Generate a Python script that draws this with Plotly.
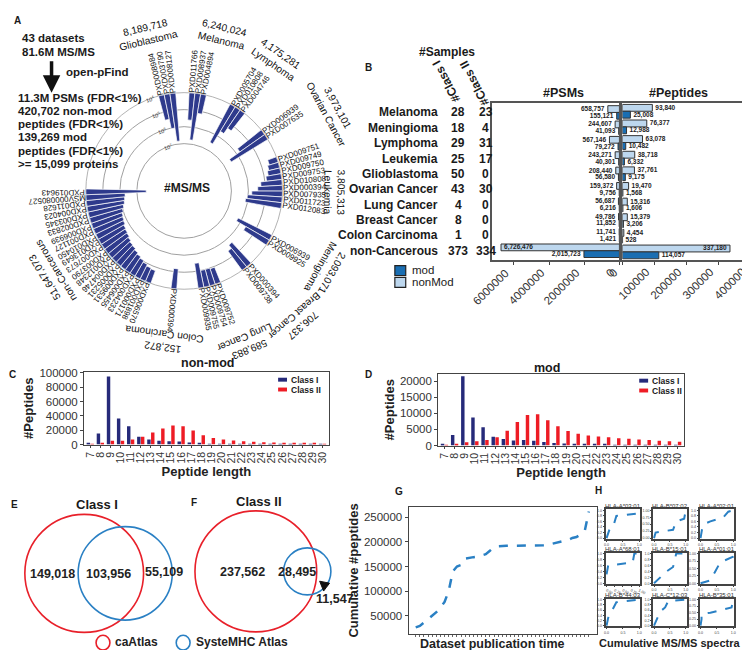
import numpy as np
import plotly.graph_objects as go

W, H = 750, 650
FONT = "Liberation Sans, Arial, sans-serif"
NAVY = "#2E3A8C"
RED = "#E8202A"
BLUE = "#2A80C4"

# ---------------- A: #MS/MS per dataset (circular, log scale) ----------------
a_groups = ["Glioblastoma", "Melanoma", "Lymphoma", "Ovarian Cancer", "Leukemia",
            "Meningioma", "Breast Cancer", "Lung Cancer", "Colon Carcinoma", "non-Cancerous"]
a_group_totals = ["8,189,718", "6,240,024", "4,175,281", "3,973,101", "3,805,313",
                  "2,093,071", "706,337", "589,883", "152,872", "51,647,073"]
ids_glioblastoma = ["PXD008984", "PXD003790", "PXD008127"]
msms_glioblastoma = [300000, 1100000, 6790000]
ids_melanoma = ["PXD011766", "PXD008937", "PXD004894"]
msms_melanoma = [400000, 5700000, 140000]
ids_lymphoma = ["PXD005704", "PXD010808", "PXD004746"]
msms_lymphoma = [3500000, 480000, 195000]
ids_ovarian = ["PXD006939", "PXD007635"]
msms_ovarian = [600000, 3370000]
ids_leukemia = ["PXD009751", "PXD009749", "PXD009750", "PXD009753", "PXD010808",
                "PXD000394", "PXD007935", "PXD011723", "PXD012083"]
msms_leukemia = [35000, 45000, 56000, 79000, 178000, 282000, 631000, 1120000, 1380000]
ids_meningioma = ["PXD006939", "PXD009925"]
msms_meningioma = [1700000, 393000]
ids_breast = ["PXD000394", "PXD009738"]
msms_breast = [450000, 256000]
ids_lung = ["PXD009752", "PXD009754", "PXD009755", "PXD009935"]
msms_lung = [90000, 100000, 100000, 300000]
ids_colon = ["PXD000394"]
msms_colon = [152872]
ids_noncancer = ["PXD006570", "PXD001898", "PXD000171", "PXD004233", "PXD006455", "PXD009531",
                 "PXD005231", "PXD004746", "PXD012348", "PXD003790", "PXD007673", "PXD013649",
                 "PXD010450", "PXD001127", "PXD006939", "PXD002833", "PXD003345", "PXD004023",
                 "PXD011628", "MSV000080527", "PXD019643"]
msms_noncancer = [63000, 71000, 89000, 112000, 141000, 178000, 224000, 251000, 316000, 398000,
                  447000, 501000, 631000, 708000, 794000, 1000000, 1259000, 1585000, 1778000,
                  1995000, 35500000]
a_ids = [ids_glioblastoma, ids_melanoma, ids_lymphoma, ids_ovarian, ids_leukemia,
         ids_meningioma, ids_breast, ids_lung, ids_colon, ids_noncancer]
a_msms = [msms_glioblastoma, msms_melanoma, msms_lymphoma, msms_ovarian, msms_leukemia,
          msms_meningioma, msms_breast, msms_lung, msms_colon, msms_noncancer]

# ---------------- B ----------------
b_types = ["Melanoma", "Meningioma", "Lymphoma", "Leukemia", "Glioblastoma", "Ovarian Cancer",
           "Lung Cancer", "Breast Cancer", "Colon Carcinoma", "non-Cancerous"]
b_class1 = [28, 18, 29, 25, 50, 43, 4, 8, 1, 373]
b_class2 = [23, 4, 31, 17, 0, 30, 0, 0, 0, 334]
b_psm_nonmod = [658757, 244607, 567146, 243271, 208440, 159372, 56687, 49786, 11741, 6726476]
b_psm_mod = [155121, 41093, 79272, 40301, 56580, 9756, 6216, 11852, 1421, 2015723]
b_pep_nonmod = [93840, 76377, 63078, 38718, 37761, 19470, 15316, 15379, 4454, 337180]
b_pep_mod = [25008, 12988, 10482, 6332, 9175, 1568, 1606, 3206, 528, 114057]
b_psm_ticks = [0, 2000000, 4000000, 6000000]
b_pep_ticks = [0, 100000, 200000, 300000, 400000]

# ---------------- C / D ----------------
pep_len = list(range(7, 31))
c_class1 = [1500, 15500, 95000, 36500, 25500, 11000, 7000, 5500, 4800, 4200, 2800, 1600, 900,
            450, 250, 150, 100, 80, 60, 50, 40, 30, 20, 20]
c_class2 = [150, 1800, 5500, 5200, 7200, 11000, 16800, 22500, 26500, 25500, 19500, 13000, 9200,
            7200, 5800, 4800, 4000, 3400, 2800, 2300, 1800, 1500, 1200, 1000]
d_class1 = [400, 3300, 21500, 8700, 5700, 2700, 2000, 1600, 1700, 1500, 1100, 800, 600, 500,
            400, 350, 250, 200, 150, 120, 100, 100, 80, 80]
d_class2 = [100, 500, 1000, 1300, 1700, 2600, 4600, 7300, 9500, 9700, 7900, 6000, 4500, 3700,
            3100, 2800, 2600, 2300, 2100, 1900, 1700, 1500, 1300, 1200]

# ---------------- E / F Venn ----------------
e_only_ca, e_both, e_only_sys = 149018, 103956, 55109
f_only_ca, f_both, f_only_sys = 237562, 28495, 11547

# ---------------- G ----------------
g_dataset_idx = list(range(1, 44))
g_cum_peptides = [26000, 29000, 36000, 43000, 50000, 57000, 66000, 78000, 100000, 140000,
                  150000, 153000, 166000, 168000, 169000, 170000, 172000, 175000, 182000,
                  189000, 191000, 192000, 192000, 192000, 192000, 192000, 192000, 192000,
                  193000, 193000, 193000, 193000, 194000, 196000, 198000, 200000, 201000,
                  204000, 208000, 210000, 215000, 222000, 262000]

# ---------------- H ----------------
h_alleles = ["HLA-A*03:01", "HLA-B*07:02", "HLA-A*02:01", "HLA-A*68:01", "HLA-B*15:01",
             "HLA-A*01:01", "HLA-B*44:03", "HLA-C*12:03", "HLA-B*35:01"]
h_x = [[0, 0.1, 0.2, 0.3, 0.5, 0.9, 1.0],
       [0, 0.05, 0.6, 0.7, 0.95, 1.0],
       [0, 0.05, 0.1, 0.3, 0.7, 0.85, 1.0],
       [0, 0.05, 0.8, 0.85, 1.0],
       [0, 0.4, 0.6, 0.7, 1.0],
       [0, 0.3, 0.45, 0.6, 1.0, 1.0],
       [0, 0.05, 0.3, 1.0],
       [0, 0.1, 0.2, 0.35, 0.45, 1.0],
       [0, 0.03, 0.03, 0.3, 0.95, 1.0]]
h_y = [[0, 0.35, 0.4, 0.8, 0.82, 0.88, 1.0],
       [0, 0.2, 0.3, 0.6, 0.7, 1.0],
       [0, 0.35, 0.5, 0.6, 0.75, 0.95, 1.0],
       [0.3, 0.6, 0.7, 1.0, 1.0],
       [0, 0.4, 0.55, 1.0, 1.0],
       [0, 0.1, 0.4, 0.7, 0.9, 1.0],
       [0, 0.3, 0.9, 1.0],
       [0, 0.3, 0.55, 0.7, 0.95, 1.0],
       [0, 0.25, 0.45, 0.5, 0.7, 1.0]]
h_ydtick = [0.2, 0.25, 0.2, 0.2, 0.2, 0.25, 0.2, 0.2, 0.25]
h_xdtick = [0.5, 0.5, 0.5, 0.25, 0.5, 0.5, 0.5, 0.5, 0.5]

# =====================================================================
fig = go.Figure()
ann, shapes = [], []


def xd(a, b):
    return [a / W, b / W]


def yd(top, bottom):
    return [1 - bottom / H, 1 - top / H]


def A(x, y, text, size=11, bold=False, color="#1a1a1a", xanchor="center", yanchor="middle",
      angle=0, **kw):
    t = f"<b>{text}</b>" if bold else text
    d = dict(x=x / W, y=1 - y / H, xref="paper", yref="paper", text=t, showarrow=False,
             font=dict(family=FONT, size=size, color=color), xanchor=xanchor, yanchor=yanchor,
             textangle=angle)
    d.update(kw)
    ann.append(d)


def norm_ang(a):
    while a > 180:
        a -= 360
    while a <= -180:
        a += 360
    return a


# ---------------- Panel A ----------------
CX, CY, RPX = 176, 181, 100          # centre and radius (px) of the 10^4 ring
PXDEC = 17.3                          # px per decade
K = 4 + RPX / PXDEC                   # log value at the centre
RMAX = K - 4
pitch = 3.4
a_centers = [-10, 8, 33, 55, 85, 120, 140.5, 165, 186, 235.5]
a_lab_theta = [-13.4, 13.8, 35, 61.5, 90.8, 119.4, 139, 157.7, 187.8, 238.3]
a_lab_r = [164, 164, 164, 170, 152, 165, 176, 168, 154, 160]

th_all, r_all, base_all, lab_all = [], [], [], []
for g, (ids, vals) in enumerate(zip(a_ids, a_msms)):
    n = len(vals)
    for i, (nm, v) in enumerate(zip(ids, vals)):
        th = a_centers[g] + (i - (n - 1) / 2) * pitch
        lv = np.log10(v)
        th_all.append(th)
        r_all.append(lv - 4)
        base_all.append(K - lv)
        lab_all.append(nm)

fig.add_trace(go.Barpolar(theta=th_all, r=r_all, base=base_all, width=pitch,
                          marker=dict(color=NAVY, line=dict(color="white", width=0.7)),
                          subplot="polar", showlegend=False, hoverinfo="skip"))


def ppx(theta, r):
    t = np.radians(theta)
    return CX + r * np.sin(t), CY - r * np.cos(t)


for th, nm in zip(th_all, lab_all):
    w = len(nm) * 8 * 0.57
    x, y = ppx(th, 102 + w / 2)
    A(x, y, nm, size=8, color="#111", angle=norm_ang(th - 90))

for g in range(len(a_groups)):
    x, y = ppx(a_lab_theta[g], a_lab_r[g])
    A(x, y, f"{a_group_totals[g]}<br>{a_groups[g]}", size=10.2, color="#111",
      angle=norm_ang(a_lab_theta[g]))

for k, ring in enumerate([4, 5, 6, 7]):
    x, y = ppx(-20, RPX - PXDEC * k - 1)
    A(x, y, f"10<sup>{ring}</sup>", size=5.5, color="#333", angle=-18)

A(179, 178, "#MS/MS", size=12, bold=True)
A(8, 8, "A", size=10, bold=True)
A(10, 25, "43 datasets", size=11.5, bold=True, xanchor="left")
A(10, 40, "81.6M MS/MS", size=11.5, bold=True, xanchor="left")
A(55, 60, "open-pFind", size=11.5, bold=True, xanchor="left")
ann.append(dict(x=42 / W, y=1 - 81 / H, xref="paper", yref="paper", text="", showarrow=True,
                ax=0, ay=-33, arrowhead=2, arrowsize=1, arrowwidth=3.5, arrowcolor="#111"))
left_lines = ["11.3M PSMs (FDR&lt;1%)", "420,702 non-mod", "peptides (FDR&lt;1%)",
              "139,269 mod", "peptides (FDR&lt;1%)", "&gt;= 15,099 proteins"]
for i, t in enumerate(left_lines):
    A(6, 86 + i * 13.5, t, size=11.5, bold=True, xanchor="left")

# ---------------- Panel B ----------------
LIGHT = "#BDD7EE"
MID = "#1A6EB2"
psm_pos_nm = ["outside"] * 9 + ["inside"]
bar_tf = dict(family=FONT, size=6.5, color="#222", weight="bold")
for xa, ya, nonmod, mod in [("x", "y", b_psm_nonmod, b_psm_mod), ("x2", "y2", b_pep_nonmod, b_pep_mod)]:
    fig.add_trace(go.Bar(y=b_types, x=nonmod, orientation="h", xaxis=xa, yaxis=ya,
                         offset=-0.44, width=0.44, marker=dict(color=LIGHT, line=dict(color="#333", width=1)),
                         text=[f"{v:,}" for v in nonmod], textposition=psm_pos_nm,
                         insidetextanchor="end", constraintext="none", cliponaxis=False,
                         textfont=bar_tf, showlegend=False, hoverinfo="skip"))
    fig.add_trace(go.Bar(y=b_types, x=mod, orientation="h", xaxis=xa, yaxis=ya,
                         offset=0.0, width=0.44, marker=dict(color=MID, line=dict(color="#333", width=1)),
                         text=[f"{v:,}" for v in mod], textposition="outside",
                         constraintext="none", cliponaxis=False,
                         textfont=bar_tf, showlegend=False, hoverinfo="skip"))

for t, c1, c2 in zip(b_types, b_class1, b_class2):
    ann.append(dict(x=435 / W, y=t, xref="paper", yref="y", text=f"<b>{t}</b>", showarrow=False,
                    xanchor="right", font=dict(family=FONT, size=12, color="#1a1a1a")))
    ann.append(dict(x=453 / W, y=t, xref="paper", yref="y", text=f"<b>{c1}</b>", showarrow=False,
                    xanchor="center", font=dict(family=FONT, size=12, color="#1a1a1a")))
    ann.append(dict(x=481 / W, y=t, xref="paper", yref="y", text=f"<b>{c2}</b>", showarrow=False,
                    xanchor="center", font=dict(family=FONT, size=12, color="#1a1a1a")))

tickf = dict(family=FONT, size=11.5, color="#333")
for xr, tv in [("x", b_psm_ticks), ("x2", b_pep_ticks)]:
    for v in tv:
        ann.append(dict(x=v, xref=xr, y=1 - 255 / H, yref="paper", text=str(v), showarrow=False,
                        textangle=-45, xanchor="right", yanchor="top", font=tickf))

A(362, 55, "B", size=10, bold=True)
A(442, 40, "#Samples", size=12, bold=True)
A(441, 70, "#Class I", size=12, bold=True, angle=-118)
A(469, 71, "#Class II", size=12, bold=True, angle=-118)
A(559, 81, "#PSMs", size=12.5, bold=True)
A(676, 81, "#Peptides", size=12.5, bold=True)
shapes.append(dict(type="rect", xref="paper", yref="paper", x0=389 / W, x1=400 / W,
                   y0=1 - 267 / H, y1=1 - 257 / H, fillcolor=MID, line=dict(color="#222", width=1.2)))
shapes.append(dict(type="rect", xref="paper", yref="paper", x0=389 / W, x1=400 / W,
                   y0=1 - 279 / H, y1=1 - 269 / H, fillcolor=LIGHT, line=dict(color="#222", width=1.2)))
A(404, 261, "mod", size=11.5, xanchor="left")
A(404, 274, "nonMod", size=11.5, xanchor="left")

# ---------------- Panel C / D ----------------
for xa, ya, c1, c2 in [("x3", "y3", c_class1, c_class2), ("x4", "y4", d_class1, d_class2)]:
    fig.add_trace(go.Bar(x=pep_len, y=c1, xaxis=xa, yaxis=ya, offset=-0.36, width=0.34,
                         marker=dict(color="#262A7A", line=dict(width=0)), showlegend=False,
                         hoverinfo="skip"))
    fig.add_trace(go.Bar(x=pep_len, y=c2, xaxis=xa, yaxis=ya, offset=0.02, width=0.34,
                         marker=dict(color="#EE1C25", line=dict(width=0)), showlegend=False,
                         hoverinfo="skip"))

A(3, 368, "C", size=10, bold=True)
A(200, 356, "non-mod", size=12.5, bold=True)
A(362, 368, "D", size=10, bold=True)
A(543, 361, "mod", size=12.5, bold=True)
for (lx, ly) in [(271, 373), (636, 374)]:
    shapes.append(dict(type="rect", xref="paper", yref="paper", x0=lx / W, x1=(lx + 9) / W,
                       y0=1 - (ly + 2) / H, y1=1 - (ly - 2) / H, fillcolor="#262A7A", line=dict(width=0)))
    shapes.append(dict(type="rect", xref="paper", yref="paper", x0=lx / W, x1=(lx + 9) / W,
                       y0=1 - (ly + 12) / H, y1=1 - (ly + 8) / H, fillcolor="#EE1C25", line=dict(width=0)))
    A(lx + 11, ly, "Class I", size=8.5, bold=True, xanchor="left")
    A(lx + 11, ly + 10, "Class II", size=8.5, bold=True, xanchor="left")

# ---------------- Panel E / F (Venn) ----------------


def lens_area(r1, r2, d):
    if d >= r1 + r2:
        return 0.0
    if d <= abs(r1 - r2):
        return np.pi * min(r1, r2) ** 2
    a = r1 * r1 * np.arccos((d * d + r1 * r1 - r2 * r2) / (2 * d * r1))
    b = r2 * r2 * np.arccos((d * d + r2 * r2 - r1 * r1) / (2 * d * r2))
    c = 0.5 * np.sqrt((-d + r1 + r2) * (d + r1 - r2) * (d - r1 + r2) * (d + r1 + r2))
    return a + b - c


R0 = 60.0
ref = e_only_ca + e_both


def venn(only_a, both, only_b):
    ra = R0 * np.sqrt((only_a + both) / ref)
    rb = R0 * np.sqrt((only_b + both) / ref)
    target = both / ref * np.pi * R0 ** 2
    lo, hi = abs(ra - rb) + 1e-6, ra + rb
    for _ in range(80):
        mid = (lo + hi) / 2
        if lens_area(ra, rb, mid) > target:
            lo = mid
        else:
            hi = mid
    return ra, rb, (lo + hi) / 2


venn_cx = [75, 248.5]
venn_cy = [80, 82]
for k, (oa, bo, ob) in enumerate([(e_only_ca, e_both, e_only_sys), (f_only_ca, f_both, f_only_sys)]):
    ra, rb, d = venn(oa, bo, ob)
    cx, cy = venn_cx[k], venn_cy[k]
    shapes.append(dict(type="circle", xref="x5", yref="y5", x0=cx - ra, x1=cx + ra,
                       y0=cy - ra, y1=cy + ra, line=dict(color=RED, width=1.6)))
    shapes.append(dict(type="circle", xref="x5", yref="y5", x0=cx + d - rb, x1=cx + d + rb,
                       y0=cy - rb, y1=cy + rb, line=dict(color=BLUE, width=1.6)))
fig.add_trace(go.Scatter(x=[0, 340], y=[0, 160], xaxis="x5", yaxis="y5", mode="markers",
                         marker=dict(opacity=0), showlegend=False, hoverinfo="skip"))

A(5, 500, "E", size=10, bold=True)
A(186, 498, "F", size=10, bold=True)
A(88, 500, "Class I", size=13, bold=True)
A(252, 497, "Class II", size=13, bold=True)
A(43, 571, f"{e_only_ca:,}", size=12.5, bold=True, color="#222")
A(100, 571, f"{e_both:,}", size=12.5, bold=True, color="#222")
A(156, 569, f"{e_only_sys:,}", size=12.5, bold=True, color="#222")
A(235, 569, f"{f_only_ca:,}", size=12.5, bold=True, color="#222")
A(290, 569, f"{f_both:,}", size=12.5, bold=True, color="#222")
A(328, 596, f"{f_only_sys:,}", size=12.5, bold=True, color="#222")


def pp(x, y):
    return f"{x / W:.5f},{1 - y / H:.5f}"


# small black arrowhead pointing into the SysteMHC-only region
shapes.append(dict(type="path", xref="paper", yref="paper",
                   path=f"M {pp(313, 578)} L {pp(323, 580)} L {pp(320, 584)} L {pp(317, 588)} Z",
                   fillcolor="#111", line=dict(color="#111", width=1)))

shapes.append(dict(type="circle", xref="paper", yref="paper", x0=87 / W, x1=101 / W,
                   y0=1 - 648 / H, y1=1 - 633 / H, line=dict(color=RED, width=1.6)))
shapes.append(dict(type="circle", xref="paper", yref="paper", x0=168 / W, x1=182 / W,
                   y0=1 - 648 / H, y1=1 - 633 / H, line=dict(color=BLUE, width=1.6)))
A(104, 640, "caAtlas", size=12, bold=True, xanchor="left", color="#222")
A(186, 640, "SysteMHC Atlas", size=12, bold=True, xanchor="left", color="#222")

# ---------------- Panel G ----------------
fig.add_trace(go.Scatter(x=g_dataset_idx, y=g_cum_peptides, xaxis="x6", yaxis="y6", mode="lines",
                         line=dict(color=BLUE, width=2.5, dash="dash"), showlegend=False,
                         hoverinfo="skip"))
A(393, 487, "G", size=10, bold=True)
A(595, 486, "H", size=10, bold=True)
A(488, 642, "Dataset publication time", size=12.5, bold=True, color="#222")

# ---------------- Panel H ----------------
h_cols = [(602, 637), (650, 684), (697, 732)]
h_rows = [(505, 535), (549, 581), (596, 624)]
for i in range(9):
    ax_n = 7 + i
    fig.add_trace(go.Scatter(x=h_x[i], y=h_y[i], xaxis=f"x{ax_n}", yaxis=f"y{ax_n}", mode="lines",
                             line=dict(color=BLUE, width=2, dash="dash"), showlegend=False,
                             hoverinfo="skip"))
    c0, c1 = h_cols[i % 3]
    r0, r1 = h_rows[i // 3]
    A((c0 + c1) / 2, r0 - 3.5, h_alleles[i], size=6, color="#333")
A(667, 641, "Cumulative MS/MS spectra", size=11, bold=True, color="#222")

# =====================================================================
lay = dict(
    width=W, height=H, margin=dict(l=0, r=0, t=0, b=0, pad=0),
    paper_bgcolor="white", plot_bgcolor="white", barmode="overlay",
    font=dict(family=FONT, color="#222"),
    annotations=ann, shapes=shapes,
    polar=dict(domain=dict(x=[(CX - RPX) / W, (CX + RPX) / W], y=[1 - (CY + RPX) / H, 1 - (CY - RPX) / H]),
               bgcolor="rgba(0,0,0,0)",
               radialaxis=dict(range=[0, RMAX], tickvals=[K - 5, K - 6, K - 7], showticklabels=False,
                               ticks="", showline=False, gridcolor="#a0a0a0", gridwidth=0.8,
                               layer="below traces"),
               angularaxis=dict(rotation=90, direction="clockwise", showticklabels=False, ticks="",
                                showgrid=False, showline=True, linecolor="#a0a0a0", linewidth=0.8,
                                layer="below traces")),
)
frame = dict(showline=True, mirror=True, linecolor="#555", linewidth=1.5, showgrid=False, zeroline=False)
lay["xaxis"] = dict(domain=xd(487, 616), range=[7250000, 0], anchor="y", tickvals=b_psm_ticks,
                    showticklabels=False, ticks="outside", ticklen=3, **frame)
lay["yaxis"] = dict(domain=yd(92, 251), anchor="x", autorange="reversed", showticklabels=False,
                    categoryorder="array", categoryarray=b_types, ticks="", **frame)
lay["xaxis2"] = dict(domain=xd(619, 748), range=[0, 400000], anchor="y2", tickvals=b_pep_ticks,
                     showticklabels=False, ticks="outside", ticklen=3, **frame)
lay["yaxis2"] = dict(domain=yd(92, 251), anchor="x2", autorange="reversed", showticklabels=False,
                     categoryorder="array", categoryarray=b_types, ticks="", **frame)
frame2 = dict(showline=True, mirror=True, linecolor="#444", linewidth=1.3, showgrid=False, zeroline=False)
for n, (xdom, ydom, yr, dt) in {3: (xd(75, 322), yd(365, 439), [0, 101500], 20000),
                                4: (xd(433, 681), yd(367, 440), [0, 22300], 5000)}.items():
    lay[f"xaxis{n}"] = dict(domain=xdom, range=[6.4, 30.6], anchor=f"y{n}", tickvals=pep_len,
                            tickangle=-90, ticks="outside", ticklen=2, tickfont=dict(family=FONT, size=10.5, color="#333"),
                            title=dict(text="<b>Peptide length</b>", font=dict(family=FONT, size=13, color="#222"), standoff=1),
                            **frame2)
    lay[f"yaxis{n}"] = dict(domain=ydom, range=yr, anchor=f"x{n}", dtick=dt, tickformat="d",
                            ticks="outside", ticklen=3, tickfont=tickf,
                            title=dict(text="<b>#Peptides</b>", font=dict(family=FONT, size=13, color="#222"), standoff=2),
                            **frame2)
lay["xaxis5"] = dict(domain=xd(0, 340), range=[0, 340], anchor="y5", visible=False)
lay["yaxis5"] = dict(domain=yd(490, 650), range=[0, 160], anchor="x5", visible=False)
lay["xaxis6"] = dict(domain=xd(403, 593), range=[-0.7, 44.9], anchor="y6", tickvals=g_dataset_idx,
                     showticklabels=False, ticks="outside", ticklen=2, tickcolor="#666", **frame2)
lay["yaxis6"] = dict(domain=yd(502, 632), range=[12000, 272000], anchor="x6", dtick=50000,
                     tick0=0, tickformat="d", ticks="outside", ticklen=3, tickfont=tickf,
                     title=dict(text="<b>Cumulative #peptides</b>", font=dict(family=FONT, size=13, color="#222"), standoff=2),
                     **frame2)
for i in range(9):
    n = 7 + i
    c0, c1 = h_cols[i % 3]
    r0, r1 = h_rows[i // 3]
    lay[f"xaxis{n}"] = dict(domain=xd(c0, c1), range=[-0.03, 1.03], anchor=f"y{n}", dtick=h_xdtick[i],
                            tickformat=".2f" if h_xdtick[i] == 0.25 else ".1f",
                            ticks="outside", ticklen=1, tickfont=dict(family=FONT, size=3.6, color="#444"),
                            showline=True, mirror=True, linecolor="#444", linewidth=1.5, showgrid=False,
                            zeroline=False)
    lay[f"yaxis{n}"] = dict(domain=yd(r0, r1), range=[-0.03, 1.03], anchor=f"x{n}", dtick=h_ydtick[i],
                            tickformat=".2f" if h_ydtick[i] == 0.25 else ".1f",
                            ticks="outside", ticklen=1, tickfont=dict(family=FONT, size=3.6, color="#444"),
                            showline=True, mirror=True, linecolor="#444", linewidth=1.5, showgrid=False,
                            zeroline=False)
fig.update_layout(**lay)
fig.write_html("out.html")
